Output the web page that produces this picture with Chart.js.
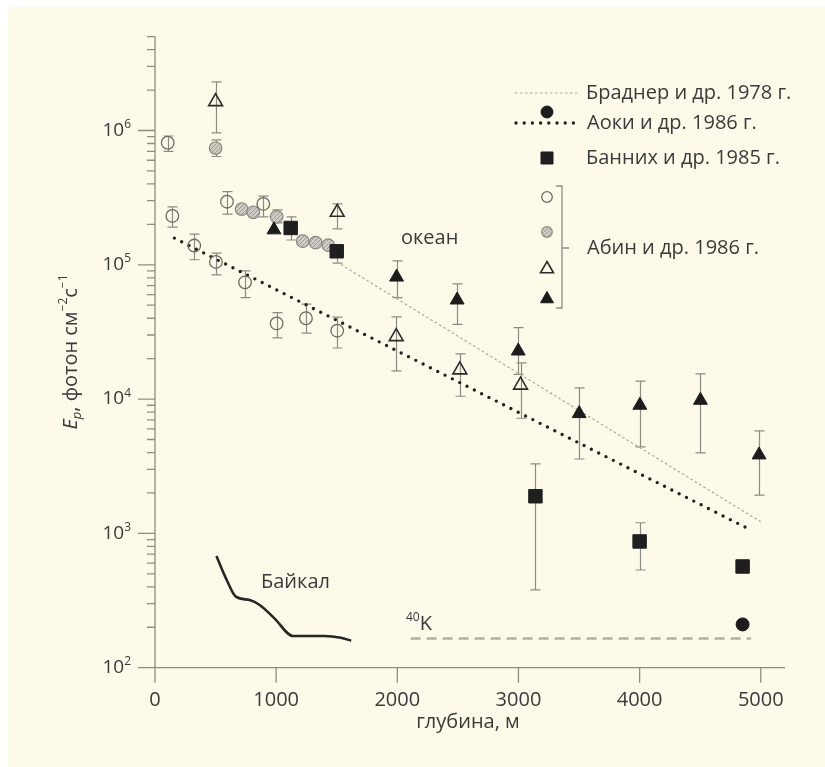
<!DOCTYPE html>
<html>
<head>
<meta charset="utf-8">
<script src="https://cdn.jsdelivr.net/npm/chart.js@4.4.1/dist/chart.umd.min.js"></script>
<style>
  html, body { margin: 0; padding: 0; background: #fff; }
  #panel { position: absolute; left: 8px; top: 7px; right: 0; bottom: 0; background: #fefae9; }
  #chart { position: absolute; left: 0; top: 0; }
</style>
</head>
<body>
<div id="panel"></div>
<canvas id="chart" width="825" height="767"></canvas>
<script>
// axis ticks
const xTicks = [0, 1000, 2000, 3000, 4000, 5000];
const yDecades = [2, 3, 4, 5, 6];

// Браднер и др. 1978 (trend line)
const bradnerX = [1500, 5000];
const bradnerY = [1.05e5, 1.22e3];

// Аоки и др. 1986 (trend line + single point)
const aokiLineX = [160, 4900];
const aokiLineY = [1.58e5, 1.08e3];
const aokiX = [4850];
const aokiY = [210];

// Банних и др. 1985
const bannihX = [1120, 1500, 3140, 4000, 4850];
const bannihY = [1.88e5, 1.26e5, 1.89e3, 871, 567];
const bannihLo = [1.53e5, 1.03e5, 380, 534, null];
const bannihHi = [2.27e5, 1.40e5, 3.29e3, 1.20e3, null];

// Абин и др. 1986, open circles
const abinOpenX = [105, 143, 324, 503, 594, 743, 894, 1004, 1246, 1504];
const abinOpenY = [8.1e5, 2.31e5, 1.39e5, 1.05e5, 2.95e5, 7.4e4, 2.84e5, 3.66e4, 4.0e4, 3.23e4];
const abinOpenLo = [7.0e5, 1.91e5, 1.09e5, 8.4e4, 2.38e5, 5.7e4, 2.27e5, 2.86e4, 3.1e4, 2.4e4];
const abinOpenHi = [9.1e5, 2.7e5, 1.69e5, 1.22e5, 3.5e5, 9.0e4, 3.25e5, 4.4e4, 5.1e4, 4.08e4];

// Абин и др. 1986, hatched circles
const abinGrayX = [500, 715, 811, 1004, 1219, 1326, 1430];
const abinGrayY = [7.4e5, 2.60e5, 2.46e5, 2.28e5, 1.50e5, 1.46e5, 1.40e5];
const abinGrayLo = [6.4e5, null, null, 2.05e5, null, null, null];
const abinGrayHi = [8.5e5, null, null, 2.56e5, null, null, null];

// Абин и др. 1986, open triangles
const abinTriX = [500, 1504, 1991, 2516, 3017];
const abinTriY = [1.64e6, 2.46e5, 2.92e4, 1.65e4, 1.27e4];
const abinTriLo = [9.6e5, 1.85e5, 1.62e4, 1.05e4, 7.2e3];
const abinTriHi = [2.3e6, 2.84e5, 4.1e4, 2.17e4, 1.86e4];

// Абин и др. 1986, filled triangles
const abinFillX = [982, 1994, 2494, 2998, 3501, 4002, 4502, 4986];
const abinFillY = [1.82e5, 8.1e4, 5.47e4, 2.28e4, 7.8e3, 9.0e3, 9.8e3, 3.84e3];
const abinFillLo = [null, 5.7e4, 3.6e4, 1.53e4, 3.58e3, 4.4e3, 3.97e3, 1.93e3];
const abinFillHi = [null, 1.07e5, 7.2e4, 3.4e4, 1.21e4, 1.36e4, 1.54e4, 5.8e3];

// Байкал curve
const baikalX = [507, 592, 667, 781, 867, 986, 1140, 1397, 1534, 1619];
const baikalY = [679, 450, 338, 319, 292, 233, 172, 172, 167, 159];

// 40K background level
const potassiumX = [2110, 4920];
const potassiumY = [165, 165];

const FONT = '"Open Sans", "DejaVu Sans", sans-serif';
const TEXT = '#3a3a3a';
const AXIS = '#8f8c84';
const ERR = '#8d8a84';

const pts = (xs, ys) => xs.map((x, i) => ({ x: x, y: ys[i] }));

// diagonal hatch fill for the grey circles
function hatch() {
    const c = document.createElement('canvas');
    c.width = 4; c.height = 4;
    const g = c.getContext('2d');
    g.fillStyle = '#cfccc5';
    g.fillRect(0, 0, 4, 4);
    g.strokeStyle = '#9f9c96';
    g.lineWidth = 1;
    g.beginPath();
    g.moveTo(0, 4); g.lineTo(4, 0);
    g.moveTo(-1, 1); g.lineTo(1, -1);
    g.moveTo(3, 5); g.lineTo(5, 3);
    g.stroke();
    return g.createPattern(c, 'repeat');
}
const grayFill = hatch();

const openCircle = { pointStyle: 'circle', pointRadius: 6.3, pointBorderColor: '#6e6b66', pointBorderWidth: 1.3, pointBackgroundColor: 'rgba(0,0,0,0)' };
const grayCircle = { pointStyle: 'circle', pointRadius: 6.3, pointBorderColor: '#8c8882', pointBorderWidth: 1.2, pointBackgroundColor: grayFill };
const openTri = { pointStyle: 'triangle', pointRadius: 8, pointBorderColor: '#2b2b2b', pointBorderWidth: 1.6, pointBackgroundColor: 'rgba(0,0,0,0)' };
const fillTri = { pointStyle: 'triangle', pointRadius: 8, pointBorderColor: '#1c1c1c', pointBorderWidth: 1, pointBackgroundColor: '#1c1c1c' };
const square = { pointStyle: 'rect', pointRadius: 9.5, pointBorderColor: '#1f1f1f', pointBorderWidth: 1, pointBackgroundColor: '#1f1f1f' };
const dot = { pointStyle: 'circle', pointRadius: 6.5, pointBorderColor: '#1c1c1c', pointBorderWidth: 1, pointBackgroundColor: '#1c1c1c' };

// error bars under the markers
const errorBars = {
    id: 'errorBars',
    beforeDatasetsDraw(chart) {
        const { ctx, scales: { x, y } } = chart;
        ctx.save();
        ctx.strokeStyle = ERR;
        ctx.lineWidth = 1.2;
        chart.data.datasets.forEach(ds => {
            if (!ds.errLo) return;
            ds.data.forEach((p, i) => {
                const lo = ds.errLo[i], hi = ds.errHi[i];
                if (lo == null) return;
                const px = Math.round(x.getPixelForValue(p.x)) + 0.5;
                const y1 = y.getPixelForValue(hi), y2 = y.getPixelForValue(lo);
                ctx.beginPath();
                ctx.moveTo(px, y1); ctx.lineTo(px, y2);
                ctx.moveTo(px - 5, y1); ctx.lineTo(px + 5, y1);
                ctx.moveTo(px - 5, y2); ctx.lineTo(px + 5, y2);
                ctx.stroke();
            });
        });
        ctx.restore();
    }
};

function supText(ctx, parts, x, y, align) {
    // parts: [text, size, dy, italic]
    let w = 0;
    parts.forEach(p => { ctx.font = (p[3] ? 'italic ' : '') + p[1] + 'px ' + FONT; w += ctx.measureText(p[0]).width; });
    let cx = align === 'right' ? x - w : align === 'center' ? x - w / 2 : x;
    parts.forEach(p => {
        ctx.font = (p[3] ? 'italic ' : '') + p[1] + 'px ' + FONT;
        ctx.fillText(p[0], cx, y + p[2]);
        cx += ctx.measureText(p[0]).width;
    });
}

// axes, tick labels, titles, annotations and the key
const decorations = {
    id: 'decorations',
    beforeDatasetsDraw(chart) {
        const { ctx, scales: { x, y } } = chart;
        const x0 = x.getPixelForValue(0);
        const yTop = y.getPixelForValue(y.max);
        const yBot = y.getPixelForValue(y.min);
        ctx.save();
        ctx.strokeStyle = AXIS;
        ctx.lineWidth = 1.3;
        ctx.beginPath();
        ctx.moveTo(x0, yTop); ctx.lineTo(x0, yBot);
        ctx.moveTo(x0, yBot); ctx.lineTo(x.getPixelForValue(x.max), yBot);
        // y ticks
        yDecades.forEach(k => {
            for (let m = 1; m <= 9; m++) {
                const v = m * Math.pow(10, k);
                if (v > y.max) break;
                const py = y.getPixelForValue(v);
                ctx.moveTo(x0 - (m === 1 ? 17 : 8), py);
                ctx.lineTo(x0, py);
            }
        });
        // x ticks
        xTicks.forEach(t => {
            const px = x.getPixelForValue(t);
            ctx.moveTo(px, yBot); ctx.lineTo(px, yBot + 15);
        });
        ctx.stroke();

        ctx.fillStyle = TEXT;
        ctx.textBaseline = 'middle';
        yDecades.forEach(k => {
            const py = y.getPixelForValue(Math.pow(10, k));
            supText(ctx, [['10', 19, 0], [String(k), 12, -6]], x0 - 24, py, 'right');
        });
        ctx.textAlign = 'center';
        ctx.font = '20px ' + FONT;
        xTicks.forEach(t => ctx.fillText(String(t), x.getPixelForValue(t), yBot + 33));
        ctx.fillText('глубина, м', 468, 722);
        ctx.textAlign = 'left';

        // y title
        ctx.save();
        ctx.translate(71, 352);
        ctx.rotate(-Math.PI / 2);
        supText(ctx, [['E', 20, 0, true], ['p', 13, 6, true], [', фотон см', 20, 0], ['−2', 12, -7], ['с', 20, 0], ['−1', 12, -7]], 0, 0, 'center');
        ctx.restore();

        // labels inside the plot
        ctx.font = '20px ' + FONT;
        ctx.fillText('Байкал', 261, 582);
        ctx.fillText('океан', 401, 238);
        supText(ctx, [['40', 12, -6], ['K', 20, 0]], 406, 624, 'left');

        // key
        const H = Chart.helpers;
        ctx.lineCap = 'butt';
        ctx.strokeStyle = '#aaa69d';
        ctx.lineWidth = 1.2;
        ctx.setLineDash([2.5, 2.5]);
        ctx.beginPath(); ctx.moveTo(515, 93); ctx.lineTo(577, 93); ctx.stroke();
        ctx.setLineDash([0, 8.2]);
        ctx.lineCap = 'round';
        ctx.strokeStyle = '#222';
        ctx.lineWidth = 3.4;
        ctx.beginPath(); ctx.moveTo(516, 123); ctx.lineTo(574, 123); ctx.stroke();
        ctx.setLineDash([]);
        ctx.lineCap = 'butt';

        const mark = (style, r, fill, stroke, bw, px, py) => {
            ctx.fillStyle = fill; ctx.strokeStyle = stroke; ctx.lineWidth = bw;
            H.drawPoint(ctx, { pointStyle: style, radius: r, rotation: 0, borderWidth: bw }, px, py);
        };
        mark('circle', 6, '#1c1c1c', '#1c1c1c', 1, 547, 112);
        mark('rect', 8.5, '#1f1f1f', '#1f1f1f', 1, 547, 158);
        mark('circle', 5.3, 'rgba(0,0,0,0)', '#6e6b66', 1.3, 547, 197);
        mark('circle', 5.3, grayFill, '#8c8882', 1.2, 547, 232);
        mark('triangle', 7.5, 'rgba(0,0,0,0)', '#2b2b2b', 1.6, 547, 269);
        mark('triangle', 7.5, '#1c1c1c', '#1c1c1c', 1, 547, 299);

        ctx.strokeStyle = AXIS;
        ctx.lineWidth = 1.3;
        ctx.beginPath();
        ctx.moveTo(556, 186); ctx.lineTo(562, 186); ctx.lineTo(562, 308); ctx.lineTo(556, 308);
        ctx.moveTo(562, 248); ctx.lineTo(569, 248);
        ctx.stroke();

        ctx.fillStyle = TEXT;
        ctx.font = '20px ' + FONT;
        ctx.fillText('Браднер и др. 1978 г.', 586, 93);
        ctx.fillText('Аоки и др. 1986 г.', 587, 123);
        ctx.fillText('Банних и др. 1985 г.', 586, 158);
        ctx.fillText('Абин и др. 1986 г.', 587, 248);
        ctx.restore();
    }
};

const lineStyle = { showLine: true, pointRadius: 0, fill: false };

new Chart(document.getElementById('chart'), {
    type: 'scatter',
    data: {
        datasets: [
            Object.assign({ label: 'Аоки и др. 1986 г.', data: pts(aokiX, aokiY) }, dot),
            Object.assign({ label: 'Банних и др. 1985 г.', data: pts(bannihX, bannihY), errLo: bannihLo, errHi: bannihHi }, square),
            Object.assign({ label: 'Абин, ▲', data: pts(abinFillX, abinFillY), errLo: abinFillLo, errHi: abinFillHi }, fillTri),
            Object.assign({ label: 'Абин, △', data: pts(abinTriX, abinTriY), errLo: abinTriLo, errHi: abinTriHi }, openTri),
            Object.assign({ label: 'Абин, ○', data: pts(abinOpenX, abinOpenY), errLo: abinOpenLo, errHi: abinOpenHi }, openCircle),
            Object.assign({ label: 'Абин, ◎', data: pts(abinGrayX, abinGrayY), errLo: abinGrayLo, errHi: abinGrayHi }, grayCircle),
            Object.assign({ label: 'Аоки (линия)', data: pts(aokiLineX, aokiLineY), borderColor: '#222', borderWidth: 3.4,
                borderDash: [0, 8.2], borderCapStyle: 'round' }, lineStyle),
            Object.assign({ label: 'Браднер и др. 1978 г.', data: pts(bradnerX, bradnerY), borderColor: '#aaa69d', borderWidth: 1.2,
                borderDash: [2.5, 2.5] }, lineStyle),
            Object.assign({ label: 'Байкал', data: pts(baikalX, baikalY), borderColor: '#262626', borderWidth: 2.6,
                cubicInterpolationMode: 'monotone' }, lineStyle),
            Object.assign({ label: '40K', data: pts(potassiumX, potassiumY), borderColor: '#b3afa7', borderWidth: 2.4,
                borderDash: [10, 6] }, lineStyle)
        ]
    },
    options: {
        responsive: false,
        devicePixelRatio: 1,
        animation: false,
        layout: { padding: { left: 155, right: 40, top: 36.6, bottom: 99.3 } },
        scales: {
            x: { type: 'linear', min: 0, max: 5200, display: false },
            y: { type: 'logarithmic', min: 100, max: 5e6, display: false }
        },
        plugins: { legend: { display: false }, tooltip: { enabled: false } }
    },
    plugins: [decorations, errorBars]
});
</script>
</body>
</html>
